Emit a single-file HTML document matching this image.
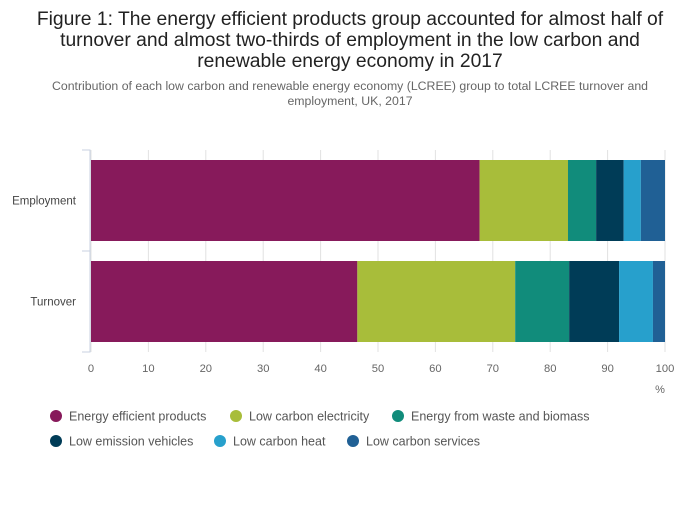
<!DOCTYPE html>
<html><head><meta charset="utf-8"><style>
body{margin:0;background:#fff;font-family:"Liberation Sans",sans-serif;}
svg text{font-family:"Liberation Sans",sans-serif;}
</style></head><body>
<svg width="700" height="502" id="chart">
<text x="350" y="25" text-anchor="middle" font-size="19.3" fill="#222">Figure 1: The energy efficient products group accounted for almost half of</text>
<text x="350" y="46" text-anchor="middle" font-size="19.3" fill="#222">turnover and almost two-thirds of employment in the low carbon and</text>
<text x="350" y="67" text-anchor="middle" font-size="19.3" fill="#222">renewable energy economy in 2017</text>
<text x="350" y="90" text-anchor="middle" font-size="12.3" fill="#666">Contribution of each low carbon and renewable energy economy (LCREE) group to total LCREE turnover and</text>
<text x="350" y="105" text-anchor="middle" font-size="12.3" fill="#666">employment, UK, 2017</text>
<g id="grid"></g><g id="bars"></g><g id="axes"></g><g id="legend"></g>
<text x="660" y="393" text-anchor="middle" font-size="11" fill="#666">%</text>
</svg>
<script>
const categories=["Employment","Turnover"];
const seriesNames=["Energy efficient products","Low carbon electricity","Energy from waste and biomass","Low emission vehicles","Low carbon heat","Low carbon services"];
const employmentValues=[67.7,15.4,4.9,4.8,3.0,4.2];
const turnoverValues=[46.4,27.5,9.4,8.7,5.9,2.1];
const tickLabels=[0,10,20,30,40,50,60,70,80,90,100];
const colors=["#871a5b","#a8bd3a","#118c7b","#003c57","#27a0cc","#206095"];
const NS="http://www.w3.org/2000/svg";
const X0=91,X1=665;
const x=v=>X0+(X1-X0)*v/100;
const bandTop=[160,261],bandH=81;
function mk(t,a,p){const e=document.createElementNS(NS,t);for(const k in a)e.setAttribute(k,a[k]);p.appendChild(e);return e;}
const grid=document.getElementById('grid'),bars=document.getElementById('bars'),axes=document.getElementById('axes'),legend=document.getElementById('legend');
tickLabels.forEach(t=>{
 const l=mk('line',{x1:x(t),x2:x(t),y1:150,y2:352,stroke:'#e2e2e2','stroke-width':1},grid);
 
 
 const tx=mk('text',{x:x(t),y:372,'text-anchor':'middle','font-size':11.2,fill:'#666'},axes);
 tx.textContent=t;
 
 
});
const ax=mk('path',{d:'M82 150H90V352H82M82 251H90',fill:'none',stroke:'#c8d2e2','stroke-width':1},axes);


[employmentValues,turnoverValues].forEach((vals,ci)=>{
 let acc=0;
 vals.forEach((v,si)=>{
  const r=mk('rect',{x:x(acc),y:bandTop[ci],width:x(acc+v)-x(acc),height:bandH,fill:colors[si]},bars);
  
  
  acc+=v;
 });
 const lb=mk('text',{x:76,y:bandTop[ci]+bandH/2+4,'text-anchor':'end','font-size':11.5,fill:'#444'},axes);
 lb.textContent=categories[ci];
 
 
});
const legPos=[[56,416],[236,416],[398,416],[56,441],[220,441],[353,441]];
seriesNames.forEach((n,i)=>{
 const g=mk('g',{},legend);
 
 
 mk('circle',{cx:legPos[i][0],cy:legPos[i][1],r:6,fill:colors[i]},g);
 const t=mk('text',{x:legPos[i][0]+13,y:legPos[i][1]+4.5,'font-size':12.5,fill:'#555'},g);
 t.textContent=n;
});
</script>
</body></html>
